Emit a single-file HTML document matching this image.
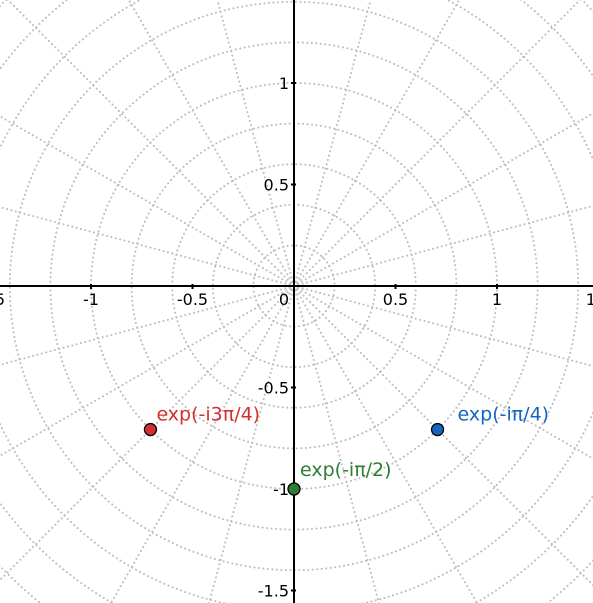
<!DOCTYPE html>
<html><head><meta charset="utf-8"><style>
html,body{margin:0;background:#fff;width:593px;height:603px;overflow:hidden}
svg{display:block;font-family:"DejaVu Sans","Liberation Sans",sans-serif}
</style></head><body>
<svg id="c" width="593" height="603" viewBox="0 0 593 603" overflow="hidden">
<g id="grid"></g>
<g id="axes"></g>
<g id="pts"></g>
</svg>
<script>
const pointLabels=["exp(-iπ/4)","exp(-iπ/2)","exp(-i3π/4)"];
const pointRe=[0.7071,0,-0.7071];
const pointIm=[-0.7071,-1,-0.7071];
const pointColors=["#1565c0","#2e7d32","#d32f2f"];
const xTicks=[-1.5,-1,-0.5,0.5,1,1.5];
const xTickLabels=["-1.5","-1","-0.5","0.5","1","1.5"];
const yTicks=[1,0.5,-0.5,-1,-1.5];
const yTickLabels=["1","0.5","-0.5","-1","-1.5"];
const circleRadii=[0.2,0.4,0.6,0.8,1,1.2,1.4,1.6,1.8,2,2.2];
const rayCount=24;

const ox=294,oy=286,s=203;
const X=v=>ox+v*s, Y=v=>oy-v*s;
const NS="http://www.w3.org/2000/svg";
function mk(t,a,p){const e=document.createElementNS(NS,t);for(const k in a)e.setAttribute(k,a[k]);p.appendChild(e);return e;}
const grid=document.getElementById('grid'),axes=document.getElementById('axes'),pts=document.getElementById('pts');
const gs={fill:"none",stroke:"#bdbdbd","stroke-width":2,"stroke-dasharray":"0.1,4.4","stroke-linecap":"round"};
circleRadii.forEach(r=>{
 const c=mk('circle',Object.assign({cx:ox,cy:oy,r:r*s},gs),grid);
 
 
});
for(let i=0;i<rayCount;i++){
 const a=i*2*Math.PI/rayCount;
 const l=mk('line',Object.assign({x1:ox,y1:oy,x2:ox+Math.cos(a)*600,y2:oy-Math.sin(a)*600},gs),grid);
 
 
}
const xa=mk('line',{x1:0,y1:oy,x2:593,y2:oy,stroke:"#000","stroke-width":2},axes);


const ya=mk('line',{x1:ox,y1:0,x2:ox,y2:603,stroke:"#000","stroke-width":2},axes);


xTicks.forEach((v,i)=>{
 mk('line',{x1:X(v),y1:oy-2,x2:X(v),y2:oy+3,stroke:"#000","stroke-width":2},axes);
 const t=mk('text',{x:X(v),y:oy+19,"text-anchor":"middle","font-size":16},axes);
 t.textContent=xTickLabels[i];
 
 
});
yTicks.forEach((v,i)=>{
 mk('line',{x1:ox-3,y1:Y(v),x2:ox+2,y2:Y(v),stroke:"#000","stroke-width":2},axes);
 const t=mk('text',{x:ox-5,y:Y(v)+6,"text-anchor":"end","font-size":16},axes);
 t.textContent=yTickLabels[i];
 
 
});
const z=mk('text',{x:ox-5,y:oy+19,"text-anchor":"end","font-size":16},axes);z.textContent="0";


pointRe.forEach((re,i)=>{
 const c=mk('circle',{cx:X(re),cy:Y(pointIm[i]),r:6,fill:pointColors[i],stroke:"#000","stroke-width":1.3},pts);
 
 
 const t=mk('text',{x:X(re)+(i==2?6:20)-(i==1?14:0),y:Y(pointIm[i])-(i==1?13:9),"font-size":19,fill:pointColors[i]},pts);
 t.textContent=pointLabels[i];
 
 
});
</script>
</body></html>
